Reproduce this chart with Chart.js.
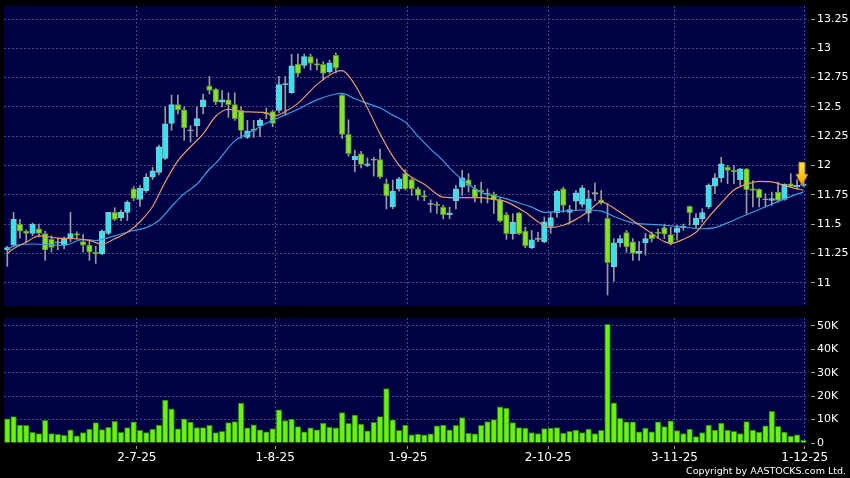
<!DOCTYPE html>
<html><head><meta charset="utf-8">
<script src="https://cdn.jsdelivr.net/npm/chart.js@4.4.1/dist/chart.umd.min.js"></script>
<style>
html,body{margin:0;padding:0;background:#000;width:850px;height:478px;overflow:hidden;}
#wrap{position:relative;width:850px;height:478px;}
canvas{position:absolute;left:0;}
#c1{top:0;} #c2{top:310px;}
#copy{position:absolute;right:4px;top:465px;color:#fff;font:9.5px "DejaVu Sans";line-height:11px;white-space:nowrap;}
</style></head><body>
<div id="wrap">
<canvas id="c1" width="850" height="310"></canvas>
<canvas id="c2" width="850" height="168"></canvas>
<div id="copy">Copyright by AASTOCKS.com Ltd.</div>
</div>
<script>
// ---- data ----
const openP = [11.28,11.32,11.50,11.44,11.42,11.46,11.42,11.37,11.34,11.32,
 11.38,11.42,11.35,11.32,11.26,11.245,11.42,11.60,11.555,11.60,
 11.80,11.71,11.785,11.90,11.94,12.06,12.36,12.52,12.475,12.295,
 12.34,12.50,12.68,12.65,12.54,12.56,12.52,12.47,12.24,12.30,
 12.34,12.45,12.46,12.47,12.69,12.62,12.865,12.855,12.93,12.87,
 12.863,12.80,12.94,12.60,12.265,12.05,12.10,12.00,12.045,12.05,
 11.845,11.647,11.80,11.93,11.88,11.80,11.744,11.668,11.665,11.645,
 11.58,11.70,11.815,11.878,11.80,11.79,11.764,11.753,11.707,11.582,
 11.418,11.597,11.44,11.298,11.37,11.35,11.48,11.597,11.80,11.60,
 11.696,11.668,11.594,11.76,11.708,11.55,11.135,11.34,11.427,11.348,
 11.25,11.34,11.413,11.43,11.47,11.41,11.428,11.467,11.652,11.496,
 11.547,11.646,11.824,11.895,11.986,11.958,11.878,11.972,11.80,11.796,
 11.708,11.703,11.773,11.711,11.844,11.82,11.83];
const highP = [11.31,11.60,11.54,11.45,11.51,11.50,11.44,11.40,11.38,11.39,
 11.60,11.435,11.41,11.36,11.31,11.45,11.60,11.64,11.62,11.70,
 11.82,11.83,11.93,11.985,12.175,12.50,12.60,12.60,12.50,12.34,
 12.50,12.61,12.76,12.66,12.64,12.62,12.62,12.50,12.385,12.385,
 12.40,12.49,12.47,12.76,12.76,12.95,12.95,12.95,12.95,12.91,
 12.886,12.90,12.96,12.61,12.39,12.13,12.12,12.065,12.07,12.14,
 11.885,11.875,11.90,11.965,11.89,11.815,11.787,11.707,11.69,11.66,
 11.645,11.83,11.96,11.93,11.83,11.858,11.80,11.773,11.724,11.60,
 11.588,11.60,11.474,11.446,11.43,11.56,11.60,11.79,11.815,11.66,
 11.787,11.83,11.787,11.85,11.787,11.675,11.376,11.405,11.447,11.376,
 11.35,11.42,11.433,11.46,11.50,11.475,11.49,11.50,11.655,11.59,
 11.632,11.844,11.93,12.07,12.00,12.00,11.975,11.975,11.872,11.80,
 11.76,11.773,11.858,11.845,11.93,11.88,11.87];
const lowP = [11.14,11.31,11.38,11.34,11.40,11.39,11.19,11.26,11.28,11.29,
 11.35,11.37,11.26,11.19,11.165,11.24,11.41,11.53,11.53,11.53,
 11.70,11.65,11.77,11.88,11.92,12.05,12.30,12.44,12.215,12.20,
 12.245,12.44,12.61,12.52,12.50,12.41,12.385,12.23,12.23,12.24,
 12.245,12.40,12.33,12.45,12.43,12.615,12.76,12.83,12.815,12.815,
 12.73,12.786,12.79,12.23,12.08,11.945,11.98,11.99,11.91,11.89,
 11.63,11.63,11.78,11.79,11.745,11.705,11.70,11.60,11.59,11.545,
 11.545,11.63,11.745,11.773,11.69,11.68,11.68,11.59,11.517,11.37,
 11.37,11.41,11.298,11.29,11.35,11.34,11.42,11.56,11.60,11.505,
 11.617,11.645,11.518,11.70,11.67,10.895,11.01,11.305,11.26,11.19,
 11.19,11.235,11.348,11.376,11.376,11.32,11.363,11.447,11.49,11.47,
 11.518,11.632,11.76,11.858,11.845,11.845,11.83,11.59,11.646,11.646,
 11.646,11.66,11.688,11.703,11.816,11.80,11.82];
const closeP = [11.30,11.54,11.44,11.42,11.50,11.42,11.28,11.30,11.34,11.375,
 11.42,11.405,11.32,11.26,11.245,11.44,11.60,11.54,11.60,11.685,
 11.72,11.805,11.90,11.955,12.16,12.355,12.52,12.475,12.32,12.295,
 12.40,12.56,12.64,12.54,12.56,12.52,12.40,12.30,12.295,12.30,
 12.385,12.44,12.36,12.69,12.70,12.85,12.785,12.93,12.87,12.857,
 12.786,12.877,12.83,12.265,12.10,12.08,12.01,12.015,12.045,11.90,
 11.74,11.78,11.886,11.80,11.80,11.745,11.73,11.668,11.66,11.58,
 11.597,11.80,11.895,11.83,11.73,11.773,11.753,11.707,11.525,11.418,
 11.517,11.418,11.313,11.366,11.37,11.52,11.555,11.78,11.66,11.623,
 11.767,11.81,11.716,11.76,11.682,11.17,11.34,11.376,11.305,11.25,
 11.268,11.376,11.376,11.42,11.413,11.335,11.467,11.48,11.595,11.552,
 11.598,11.83,11.895,12.014,11.958,11.947,11.972,11.793,11.788,11.725,
 11.708,11.717,11.703,11.839,11.82,11.83,11.84];
const volumeK = [10.3,11.3,7.7,7.6,4.6,4.0,9.7,4.0,3.7,3.3,5.6,3.1,4.4,6.0,8.7,5.7,6.7,9.3,4.6,6.6,9.0,5.4,
 4.4,5.9,7.7,18.3,14.6,6.1,10.3,8.9,6.6,6.6,7.6,4.4,5.0,8.7,9.1,17.1,6.5,7.8,5.6,4.8,
 6.2,14.2,9.6,10.2,7.0,4.8,6.5,5.6,8.5,6.8,6.5,13.0,8.4,11.9,8.1,5.2,8.8,11.3,23.3,9.9,5.4,7.7,
 3.5,3.8,3.5,3.9,7.3,7.7,5.6,7.5,10.9,4.1,3.9,7.5,9.2,10.0,15.4,14.9,8.7,6.6,6.4,4.5,
 4.0,6.2,6.4,6.6,4.2,5.0,5.5,4.4,6.0,4.0,5.4,50.7,
 17.2,10.5,9.0,9.0,4.8,6.4,4.8,9.0,7.0,9.5,5.3,4.0,6.0,2.7,4.4,7.7,5.5,8.5,5.5,5.0,
 4.0,9.2,5.5,4.7,7.3,13.5,7.1,4.7,3.0,3.5,1.1];
const maShortIdx = [0,1,3,5,8,11,13,15,17,19,21,23,25,27,29,31,33,35,37,41,42,44,46,49,52,53,55,57,59,61,63,64,66,69,71,75,77,79,82,84,86,88,90,92,94,95,97,99,102,104,105,107,109,111,113,115,117,119,121,123,125,126];
const maShortVal = [11.25,11.29,11.345,11.40,11.38,11.375,11.36,11.33,11.375,11.43,11.52,11.65,11.86,12.04,12.16,12.27,12.42,12.48,12.46,12.45,12.42,12.46,12.53,12.69,12.80,12.81,12.69,12.49,12.27,12.08,11.94,11.90,11.84,11.73,11.725,11.725,11.71,11.69,11.60,11.52,11.47,11.49,11.54,11.61,11.69,11.67,11.60,11.53,11.42,11.35,11.335,11.37,11.43,11.56,11.68,11.79,11.84,11.865,11.86,11.83,11.80,11.79];
const maLongIdx = [0,2,4,9,12,14,16,17,20,22,24,26,28,30,32,33,36,38,41,43,46,49,52,53,55,57,59,61,63,65,67,69,70,72,75,78,81,83,85,88,91,94,96,99,101,104,107,110,112,114,117,119,121,123,126];
const maLongVal = [11.29,11.325,11.33,11.32,11.37,11.36,11.385,11.40,11.445,11.47,11.53,11.65,11.76,11.84,11.97,12.02,12.21,12.27,12.36,12.41,12.48,12.56,12.61,12.615,12.57,12.53,12.49,12.43,12.37,12.25,12.14,12.04,11.98,11.88,11.77,11.73,11.68,11.645,11.60,11.61,11.62,11.61,11.565,11.51,11.50,11.49,11.475,11.46,11.47,11.51,11.58,11.625,11.67,11.715,11.775];
const xTickPos = [20.5,42.4,63.4,85.6,105.6,126.2];
const xTickText = ['2-7-25','1-8-25','1-9-25','2-10-25','3-11-25','1-12-25'];
const priceTicks = [11,11.25,11.5,11.75,12,12.25,12.5,12.75,13,13.25];
const volTicks = [0,10,20,30,40,50];

// ---- styling ----
Chart.defaults.font.family = "'DejaVu Sans', sans-serif";
const GRID = '#4a4a80', TICKC = '#a0a0a0', NAVY = '#000044';
const UP = '#33e4f0', DN = '#84e22c', EQ = '#a8a8a8';
const idx = closeP.map((_, i) => i);
const dir = idx.map(i => { const d = closeP[i] - openP[i]; return d > 0.003 ? 1 : (d < -0.003 ? -1 : 0); });
const bodyFill = dir.map(d => d > 0 ? UP : d < 0 ? DN : EQ);
const bodyLine = dir.map(d => d > 0 ? '#8cc2ca' : d < 0 ? '#5f8a2e' : EQ);

const bgPlugin = { id: 'bg', beforeDraw(c) { const a = c.chartArea, x = c.ctx; x.save(); x.fillStyle = NAVY; x.fillRect(a.left, a.top, a.right - a.left, a.bottom - a.top); x.restore(); } };
const arrowPlugin = { id: 'arrow', afterDatasetsDraw(c) {
  const xs = c.scales.x, ys = c.scales.y, L = closeP.length - 1;
  const cx = xs.getPixelForValue(L) - 1.5, ty = ys.getPixelForValue(closeP[L]) + 1;
  const ctx = c.ctx; ctx.save();
  const g = ctx.createLinearGradient(0, ty - 23, 0, ty);
  g.addColorStop(0, '#ffe24a'); g.addColorStop(0.6, '#ffc61a'); g.addColorStop(1, '#f09a00');
  ctx.fillStyle = g; ctx.strokeStyle = '#b87c00'; ctx.lineWidth = 0.8;
  ctx.beginPath();
  ctx.moveTo(cx - 3, ty - 23); ctx.lineTo(cx + 3, ty - 23); ctx.lineTo(cx + 3, ty - 11);
  ctx.lineTo(cx + 6, ty - 11); ctx.lineTo(cx, ty); ctx.lineTo(cx - 6, ty - 11); ctx.lineTo(cx - 3, ty - 11);
  ctx.closePath(); ctx.fill(); ctx.stroke(); ctx.restore();
} };

const fixY = s => { s.width = 43; s.paddingTop = 0; s.paddingBottom = 0; };
const xCommon = () => ({ type: 'linear', min: -0.52, max: 126.57, offset: false, bounds: 'data',
  afterBuildTicks: s => { s.ticks = xTickPos.map(v => ({ value: v })); } });
const baseOpts = { responsive: false, animation: false, devicePixelRatio: 1, events: [],
  plugins: { legend: { display: false }, tooltip: { enabled: false } } };

new Chart(document.getElementById('c1'), {
  type: 'bar',
  data: { datasets: [
    { type: 'line', data: maShortIdx.map((x, k) => ({ x, y: maShortVal[k] })), borderColor: '#e49a6c', borderWidth: 1.2, pointRadius: 0, cubicInterpolationMode: 'monotone', order: 0 },
    { type: 'line', data: maLongIdx.map((x, k) => ({ x, y: maLongVal[k] })), borderColor: '#3b9de2', borderWidth: 1.2, pointRadius: 0, cubicInterpolationMode: 'monotone', order: 0 },
    { data: idx.map(i => ({ x: i, y: [openP[i], closeP[i]] })), backgroundColor: bodyFill, borderColor: bodyLine, borderWidth: 1, borderSkipped: false, barThickness: 5.6, minBarLength: 1, grouped: false, order: 1 },
    { data: idx.map(i => ({ x: i, y: [lowP[i], highP[i]] })), backgroundColor: '#9c9c9c', borderWidth: 0, barThickness: 1, grouped: false, order: 2 }
  ] },
  options: { ...baseOpts,
    layout: { padding: { left: 4, top: 6, right: 0, bottom: 4 } },
    scales: {
      x: { ...xCommon(), ticks: { display: false }, grid: { color: GRID, drawTicks: false, offset: false }, border: { display: false, dash: [2, 2] }, afterFit: s => { s.height = 0; s.paddingLeft = 0; s.paddingRight = 0; } },
      y: { type: 'linear', position: 'right', min: 10.801, max: 13.361, beginAtZero: false, bounds: 'data',
        afterBuildTicks: s => { s.ticks = priceTicks.map(v => ({ value: v })); },
        ticks: { color: '#ffffff', font: { size: 11 }, padding: 2, autoSkip: false, callback: v => String(v) },
        grid: { color: GRID, tickColor: TICKC, tickLength: 8, tickBorderDash: [4, 4], tickBorderDashOffset: 4 },
        border: { display: false, dash: [2, 2] },
        afterFit: fixY }
    } },
  plugins: [bgPlugin, arrowPlugin]
});

new Chart(document.getElementById('c2'), {
  type: 'bar',
  data: { datasets: [
    { data: idx.map(i => ({ x: i, y: volumeK[i] })), backgroundColor: '#6af012', borderColor: '#2c7c08', borderWidth: 1, barThickness: 5.6, grouped: false }
  ] },
  options: { ...baseOpts,
    layout: { padding: { left: 4, top: 8, right: 0, bottom: 0 } },
    scales: {
      x: { ...xCommon(), ticks: { color: '#ffffff', font: { size: 12 }, padding: 2, maxRotation: 0, autoSkip: false, callback: (v, i) => xTickText[i] },
        grid: { color: GRID, tickColor: TICKC, tickLength: 6, tickBorderDash: [3, 3], tickBorderDashOffset: 3, offset: false },
        border: { display: false, dash: [2, 2] }, afterFit: s => { s.height = 35; s.paddingLeft = 0; s.paddingRight = 0; } },
      y: { type: 'linear', position: 'right', min: 0, max: 53.4, bounds: 'data',
        afterBuildTicks: s => { s.ticks = volTicks.map(v => ({ value: v })); },
        ticks: { color: '#ffffff', font: { size: 11 }, padding: 2, autoSkip: false, callback: v => v === 0 ? '0' : v + 'K' },
        grid: { color: c => (c.tick && c.tick.value === 0) ? 'rgba(0,0,0,0)' : GRID, tickColor: TICKC, tickLength: 8, tickBorderDash: [4, 4], tickBorderDashOffset: 4 },
        border: { display: false, dash: [2, 2] },
        afterFit: fixY }
    } },
  plugins: [bgPlugin]
});
</script>
</body></html>
